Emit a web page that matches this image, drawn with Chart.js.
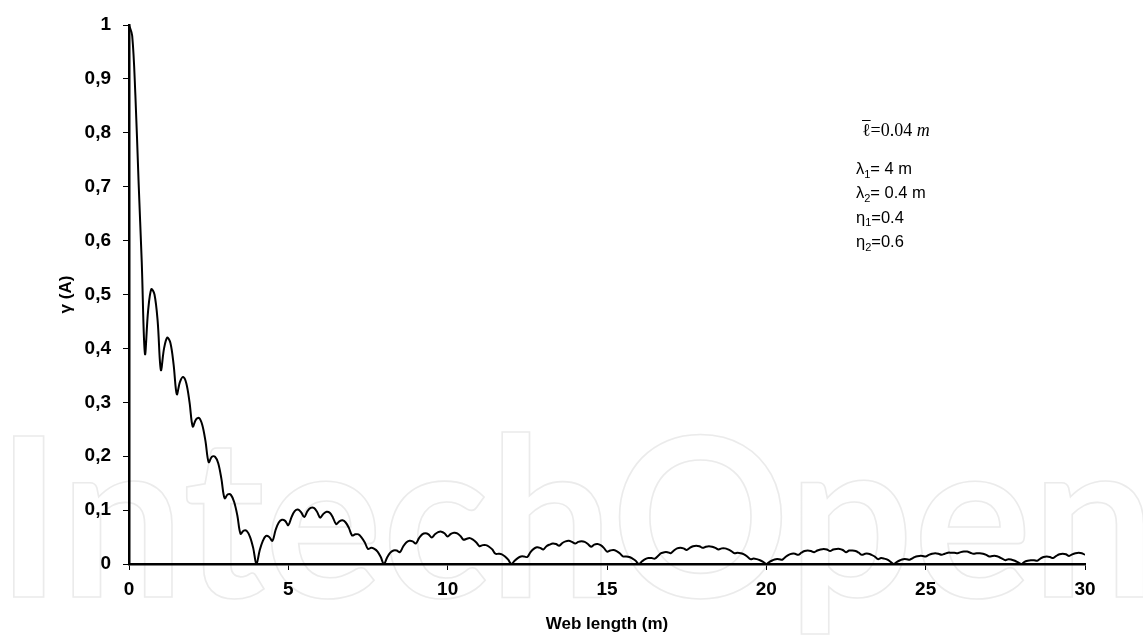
<!DOCTYPE html>
<html>
<head>
<meta charset="utf-8">
<script src="https://cdn.jsdelivr.net/npm/chart.js@4.4.1/dist/chart.umd.min.js"></script>
<style>
  html, body { margin: 0; padding: 0; background: #fff; }
  #wrap { width: 1143px; height: 639px; }
</style>
</head>
<body>
<div id="wrap"><canvas id="chart" width="1143" height="639"></canvas></div>
<script>
// web length step between samples (m)
const STEP = 0.1;

// gamma(A), one array per 4 m lobe
const gamma0to4 = [
  1.00, 0.98, 0.87, 0.71, 0.56,
  0.39, 0.47, 0.51, 0.50, 0.45,
  0.36, 0.40, 0.42, 0.41, 0.37,
  0.315, 0.338, 0.347, 0.335, 0.30,
  0.255, 0.268, 0.271, 0.258, 0.228,
  0.189, 0.199, 0.199, 0.187, 0.158,
  0.122, 0.129, 0.128, 0.115, 0.090,
  0.056, 0.062, 0.061, 0.050, 0.029
];
const gamma4to8 = [
  0, 0.025, 0.043, 0.052, 0.050,
  0.043, 0.063, 0.077, 0.082, 0.080,
  0.072, 0.087, 0.098, 0.101, 0.096,
  0.087, 0.098, 0.104, 0.104, 0.097,
  0.086, 0.093, 0.097, 0.095, 0.086,
  0.074, 0.079, 0.081, 0.077, 0.067,
  0.053, 0.055, 0.055, 0.049, 0.040,
  0.028, 0.030, 0.028, 0.023, 0.013
];
const gamma8to12 = [
  0, 0.012, 0.021, 0.025, 0.025,
  0.022, 0.032, 0.040, 0.043, 0.042,
  0.038, 0.048, 0.055, 0.057, 0.055,
  0.049, 0.055, 0.059, 0.060, 0.057,
  0.051, 0.056, 0.058, 0.057, 0.052,
  0.045, 0.047, 0.048, 0.045, 0.040,
  0.033, 0.035, 0.035, 0.032, 0.027,
  0.019, 0.019, 0.018, 0.014, 0.008
];
const gamma12to16 = [
  0, 0.006, 0.011, 0.014, 0.014,
  0.013, 0.022, 0.028, 0.031, 0.030,
  0.027, 0.033, 0.036, 0.038, 0.037,
  0.034, 0.039, 0.042, 0.043, 0.041,
  0.038, 0.041, 0.042, 0.041, 0.037,
  0.032, 0.036, 0.037, 0.035, 0.030,
  0.023, 0.025, 0.026, 0.024, 0.020,
  0.014, 0.014, 0.013, 0.010, 0.006
];
const gamma16to20 = [
  0, 0.005, 0.009, 0.011, 0.011,
  0.010, 0.015, 0.020, 0.022, 0.022,
  0.020, 0.025, 0.029, 0.030, 0.029,
  0.026, 0.030, 0.033, 0.034, 0.033,
  0.030, 0.032, 0.033, 0.032, 0.030,
  0.027, 0.029, 0.029, 0.027, 0.024,
  0.020, 0.021, 0.020, 0.018, 0.014,
  0.009, 0.010, 0.009, 0.007, 0.004
];
const gamma20to24 = [
  0, 0.004, 0.007, 0.009, 0.009,
  0.008, 0.013, 0.017, 0.019, 0.019,
  0.017, 0.021, 0.024, 0.025, 0.024,
  0.022, 0.025, 0.027, 0.028, 0.027,
  0.024, 0.027, 0.028, 0.028, 0.026,
  0.022, 0.025, 0.025, 0.024, 0.021,
  0.017, 0.019, 0.019, 0.017, 0.014,
  0.009, 0.011, 0.010, 0.008, 0.004
];
const gamma24to28 = [
  0, 0.004, 0.007, 0.009, 0.009,
  0.008, 0.011, 0.014, 0.015, 0.015,
  0.014, 0.017, 0.019, 0.020, 0.019,
  0.017, 0.019, 0.021, 0.021, 0.021,
  0.020, 0.022, 0.023, 0.023, 0.021,
  0.019, 0.020, 0.020, 0.019, 0.017,
  0.014, 0.015, 0.015, 0.013, 0.010,
  0.007, 0.009, 0.008, 0.006, 0.003
];
const gamma28to30 = [
  0, 0.004, 0.006, 0.007, 0.007,
  0.006, 0.010, 0.013, 0.014, 0.013,
  0.011, 0.015, 0.018, 0.019, 0.018,
  0.015, 0.018, 0.020, 0.021, 0.020,
  0.017
];

const yTickLabels = ['0', '0,1', '0,2', '0,3', '0,4', '0,5', '0,6', '0,7', '0,8', '0,9', '1'];
const xTickValues = [0, 5, 10, 15, 20, 25, 30];

// parameter box text
const paramLines = [
  { sym: 'λ', sub: '1', text: '= 4 m' },
  { sym: 'λ', sub: '2', text: '= 0.4 m' },
  { sym: 'η', sub: '1', text: '=0.4' },
  { sym: 'η', sub: '2', text: '=0.6' }
];

const gamma = [].concat(gamma0to4, gamma4to8, gamma8to12, gamma12to16,
  gamma16to20, gamma20to24, gamma24to28, gamma28to30);
const points = gamma.map((g, i) => ({ x: +(i * STEP).toFixed(1), y: g }));

const SANS = '"Liberation Sans", Arial, sans-serif';
const SERIF = '"Liberation Serif", "Times New Roman", serif';
Chart.defaults.font.family = SANS;
Chart.defaults.color = '#000';

// faint publisher watermark behind the plot
const watermark = {
  id: 'watermark',
  beforeDraw(chart) {
    const ctx = chart.ctx;
    ctx.save();
    ctx.font = 'bold 222px Lato, "Liberation Sans", sans-serif';
    const w = ctx.measureText('IntechOpen').width;
    ctx.translate(-4, 597);
    ctx.scale(1160 / w, 1);
    ctx.strokeStyle = '#ebebeb';
    ctx.lineWidth = 1.6;
    ctx.strokeText('IntechOpen', 0, 0);
    ctx.restore();
  }
};

// parameter annotations on the right
const params = {
  id: 'params',
  afterDraw(chart) {
    const ctx = chart.ctx;
    ctx.save();
    ctx.fillStyle = '#000';
    ctx.textBaseline = 'alphabetic';

    // l-bar = 0.04 m
    let x = 862, y = 136;
    ctx.font = '18px ' + SERIF;
    ctx.fillText('ℓ', x, y);
    const lw = ctx.measureText('ℓ').width;
    ctx.beginPath();
    ctx.lineWidth = 1;
    ctx.strokeStyle = '#000';
    ctx.moveTo(x, y - 15.5);
    ctx.lineTo(x + lw, y - 15.5);
    ctx.stroke();
    x += lw;
    ctx.fillText('=0.04 ', x, y);
    x += ctx.measureText('=0.04 ').width;
    ctx.font = 'italic 18px ' + SERIF;
    ctx.fillText('m', x, y);

    paramLines.forEach((p, i) => {
      let px = 856;
      const py = 174 + i * 24.4;
      ctx.font = '16.5px ' + SANS;
      ctx.fillText(p.sym, px, py);
      px += ctx.measureText(p.sym).width;
      ctx.font = '11px ' + SANS;
      ctx.fillText(p.sub, px, py + 3.5);
      px += ctx.measureText(p.sub).width;
      ctx.font = '16.5px ' + SANS;
      ctx.fillText(p.text, px, py);
    });
    ctx.restore();
  }
};

new Chart(document.getElementById('chart').getContext('2d'), {
  type: 'line',
  data: {
    datasets: [{
      data: points,
      borderColor: '#000',
      borderWidth: 2,
      pointRadius: 0,
      tension: 0.35,
      fill: false
    }]
  },
  options: {
    responsive: false,
    devicePixelRatio: 1,
    animation: false,
    layout: { padding: { top: 25, right: 58, left: 0, bottom: 0 } },
    plugins: { legend: { display: false }, tooltip: { enabled: false } },
    scales: {
      x: {
        type: 'linear',
        min: 0,
        max: 30,
        afterFit: s => { s.height = 75; },
        afterBuildTicks: s => { s.ticks = xTickValues.map(v => ({ value: v })); },
        border: { display: true, color: '#000', width: 2.5 },
        grid: { drawOnChartArea: false, drawTicks: true, tickLength: 6, color: '#000', lineWidth: 1 },
        ticks: { font: { size: 19, weight: 'bold' }, padding: 8, maxRotation: 0 },
        title: {
          display: true,
          text: 'Web length (m)',
          font: { size: 17, weight: 'bold' },
          padding: { top: 0, bottom: 4 }
        }
      },
      y: {
        min: 0,
        max: 1,
        afterFit: s => { s.width = 129; },
        border: { display: true, color: '#000', width: 2.5 },
        grid: { drawOnChartArea: false, drawTicks: true, tickLength: 6, color: '#000', lineWidth: 1 },
        ticks: {
          stepSize: 0.1,
          font: { size: 19, weight: 'bold' },
          padding: 12,
          callback: (v, i) => yTickLabels[i]
        },
        title: {
          display: true,
          text: 'γ (A)',
          font: { size: 17, weight: 'bold' },
          padding: { top: 56, bottom: 0 }
        }
      }
    }
  },
  plugins: [watermark, params]
});
</script>
</body>
</html>
